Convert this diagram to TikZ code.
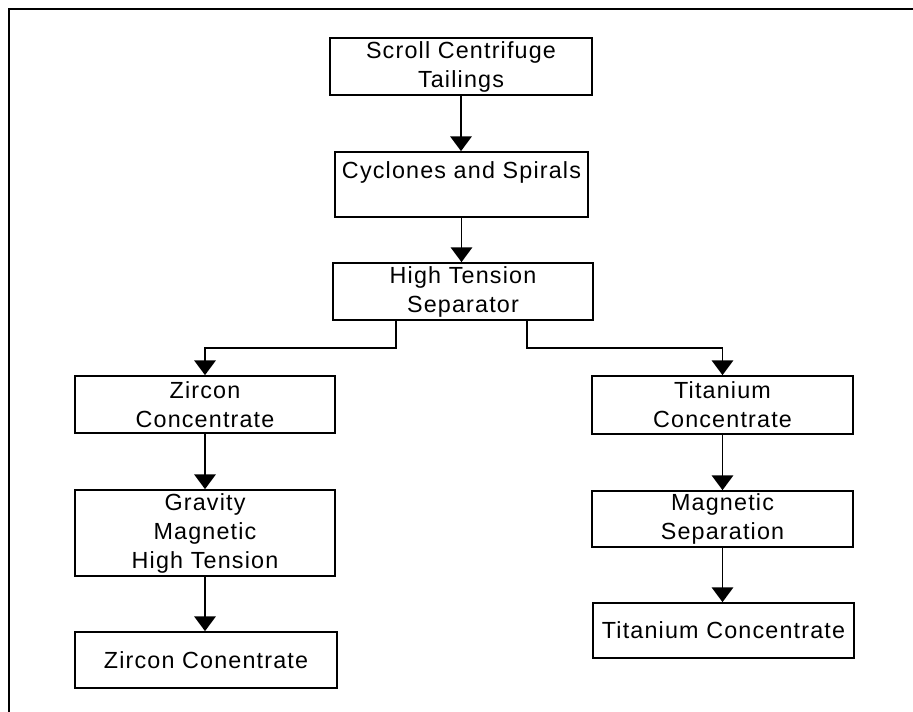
\documentclass[tikz,border=0pt]{standalone}
\usepackage{fontspec}
\setmainfont{Liberation Sans}[LetterSpace=5]
\usetikzlibrary{arrows.meta}
\begin{document}
\begin{tikzpicture}[x=0.75pt,y=-0.75pt,
  box/.style={draw, line width=1.3pt, inner sep=0pt, align=center,
    font=\fontsize{17.5}{21.75}\selectfont},
  arr/.style={line width=1.3pt, -{Triangle[length=11pt,width=16pt]}},
  ln/.style={line width=1.3pt}]
\useasboundingbox (0,0) rectangle (913,712);
\draw[ln] (913,9) -- (9,9) -- (9,712);
\node[box, minimum width=262*0.75pt, minimum height=57*0.75pt] (scroll) at (461,66.5) {Scroll Centrifuge\\Tailings};
\node[box, minimum width=253*0.75pt, minimum height=65*0.75pt] (cyc) at (461.5,184.5) {Cyclones and Spirals\\~};
\node[box, minimum width=260*0.75pt, minimum height=57*0.75pt] (hts) at (463,291.5) {High Tension\\Separator};
\node[box, minimum width=260*0.75pt, minimum height=57*0.75pt] (zc) at (205,404.5) {Zircon\\Concentrate};
\node[box, minimum width=260*0.75pt, minimum height=86*0.75pt] (gmh) at (205,533) {Gravity\\Magnetic\\High Tension};
\node[box, minimum width=262*0.75pt, minimum height=56*0.75pt] (zc2) at (206,660) {Zircon Conentrate};
\node[box, minimum width=261*0.75pt, minimum height=58*0.75pt] (tc) at (722.5,405) {Titanium\\Concentrate};
\node[box, minimum width=261*0.75pt, minimum height=56*0.75pt] (ms) at (722.5,519) {Magnetic\\Separation};
\node[box, minimum width=261*0.75pt, minimum height=55*0.75pt] (tc2) at (723.5,630.5) {Titanium Concentrate};
\coordinate (bl) at (396,348);
\coordinate (br) at (527,348);
\draw[arr] (scroll.south) -- (scroll.south |- cyc.north);
\draw[arr] (cyc.south) -- (cyc.south |- hts.north);
\draw[arr] (hts.south -| bl) -- (bl) -| (zc.north);
\draw[arr] (hts.south -| br) -- (br) -| (tc.north);
\draw[arr] (zc.south) -- (zc.south |- gmh.north);
\draw[arr] (gmh.south) -- (gmh.south |- zc2.north);
\draw[arr] (tc.south) -- (tc.south |- ms.north);
\draw[arr] (ms.south) -- (ms.south |- tc2.north);
\end{tikzpicture}
\end{document}
